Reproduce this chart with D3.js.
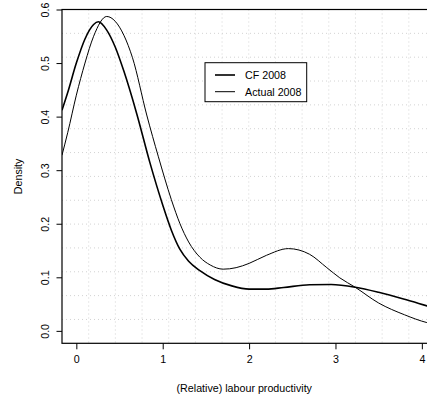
<!DOCTYPE html>
<html>
<head>
<meta charset="utf-8">
<script src="https://cdn.jsdelivr.net/npm/d3@7"></script>
<style>
html,body{margin:0;padding:0;background:#fff;}
svg{display:block;font-family:"Liberation Sans",Arial,Helvetica,sans-serif;}
</style>
</head>
<body>
<svg id="chart" width="427" height="400"></svg>
<script>
// ---- data ----
const cfX = [-0.166,-0.1,0.0,0.1,0.2,0.255,0.35,0.45,0.55,0.7,0.85,1.0,1.1,1.2,1.3,1.43,1.6,1.8,2.0,2.2,2.4,2.7,2.95,3.23,3.5,3.8,4.06,4.16];
const cfY = [0.412,0.445,0.50,0.545,0.572,0.577,0.562,0.530,0.485,0.405,0.315,0.235,0.188,0.152,0.130,0.1125,0.096,0.084,0.078,0.078,0.081,0.086,0.0865,0.0815,0.072,0.059,0.0467,0.042];
const actX = [-0.166,-0.1,0.0,0.1,0.2,0.352,0.45,0.55,0.65,0.815,0.95,1.1,1.2,1.3,1.43,1.55,1.70,1.85,2.0,2.2,2.455,2.7,2.9,3.05,3.228,3.5,3.8,4.058,4.16];
const actY = [0.328,0.37,0.44,0.50,0.55,0.587,0.578,0.552,0.51,0.403,0.325,0.245,0.20,0.166,0.1376,0.123,0.1152,0.118,0.126,0.141,0.1536,0.143,0.118,0.099,0.0815,0.052,0.030,0.0155,0.012];
const xTicks = [0,1,2,3,4];
const yTicks = [0.0,0.1,0.2,0.3,0.4,0.5,0.6];
const seriesNames = ["CF 2008","Actual 2008"];
const xLabel = "(Relative) labour productivity";
const yLabel = "Density";

// ---- layout ----
const L = 62, R = 435.5, T = 9.5, B = 343.3;
const svg = d3.select("#chart");
const x = d3.scaleLinear().domain([-0.166, 4.158]).range([L, R]);
const y = d3.scaleLinear().domain([-0.0232, 0.6]).range([B, T]);
const fs = 10.7;

// grid (14 x 14 divisions)
const nGrid = 14;
const g = svg.append("g");
for (let i = 1; i < nGrid; i++) {
  const gx = L + (R - L) * i / nGrid;
  const gy = T + (B - T) * i / nGrid;
  g.append("line").attr("x1", gx).attr("x2", gx).attr("y1", T).attr("y2", B)
    .attr("stroke", "#d3d3d3").attr("stroke-width", 1).attr("stroke-dasharray", "1,3");
  g.append("line").attr("x1", L).attr("x2", R).attr("y1", gy).attr("y2", gy)
    .attr("stroke", "#d3d3d3").attr("stroke-width", 1).attr("stroke-dasharray", "1,3");
}

// curves
const line = d3.line().x(d => x(d[0])).y(d => y(d[1])).curve(d3.curveMonotoneX);
svg.append("clipPath").attr("id", "clip").append("rect")
  .attr("x", L).attr("y", T).attr("width", R - L).attr("height", B - T);
const curves = svg.append("g").attr("clip-path", "url(#clip)");
curves.append("path").datum(cfX.map((v, i) => [v, cfY[i]]))
  .attr("d", line).attr("fill", "none").attr("stroke", "#000").attr("stroke-width", 1.6);
curves.append("path").datum(actX.map((v, i) => [v, actY[i]]))
  .attr("d", line).attr("fill", "none").attr("stroke", "#000").attr("stroke-width", 1.0);

// box
svg.append("rect").attr("x", L).attr("y", T).attr("width", R - L).attr("height", B - T)
  .attr("fill", "none").attr("stroke", "#000").attr("stroke-width", 1.2);

// x axis
const xa = svg.append("g").attr("transform", `translate(0,${B})`)
  .call(d3.axisBottom(x).tickValues(xTicks).tickSize(6).tickPadding(6).tickFormat(d3.format("d")));
xa.select(".domain").remove();
xa.selectAll("text").attr("font-size", fs).attr("font-family", "Liberation Sans, Arial, sans-serif").attr("fill", "#000");
xa.selectAll("line").attr("stroke", "#000");

// y axis
const ya = svg.append("g").attr("transform", `translate(${L},0)`)
  .call(d3.axisLeft(y).tickValues(yTicks).tickSize(5.5).tickFormat(d3.format(".1f")));
ya.select(".domain").remove();
ya.selectAll("line").attr("stroke", "#000");
ya.selectAll("text")
  .attr("font-size", fs).attr("font-family", "Liberation Sans, Arial, sans-serif").attr("fill", "#000")
  .attr("x", null).attr("dy", null)
  .attr("text-anchor", "middle")
  .attr("transform", "translate(-13.5,0) rotate(-90)");

// axis labels
svg.append("text").attr("x", (L + R) / 2 - 4.5).attr("y", 392)
  .attr("text-anchor", "middle").attr("font-size", fs).text(xLabel);
svg.append("text").attr("transform", `translate(21.5,${(T + B) / 2}) rotate(-90)`)
  .attr("text-anchor", "middle").attr("font-size", fs).text(yLabel);

// legend
const lg = svg.append("g");
lg.append("rect").attr("x", 205).attr("y", 62.7).attr("width", 101.7).attr("height", 39)
  .attr("fill", "#fff").attr("stroke", "#000").attr("stroke-width", 1);
const widths = [1.6, 1.0];
seriesNames.forEach((n, i) => {
  const ly = 75 + i * 16.7;
  lg.append("line").attr("x1", 215).attr("x2", 235).attr("y1", ly).attr("y2", ly)
    .attr("stroke", "#000").attr("stroke-width", widths[i]);
  lg.append("text").attr("x", 245).attr("y", ly + 3.8).attr("font-size", fs).text(n);
});
</script>
</body>
</html>
